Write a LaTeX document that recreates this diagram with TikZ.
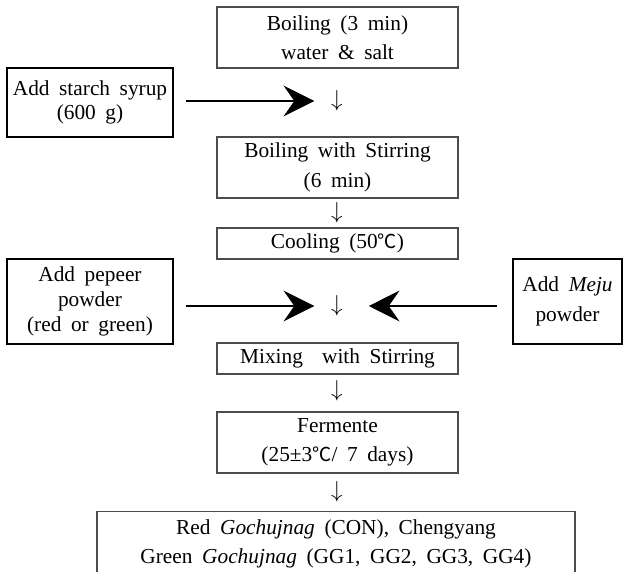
\documentclass[tikz,border=0pt]{standalone}
\usepackage{fontspec}
\setmainfont{Liberation Serif}[WordSpace=1.8]
\newfontfamily\cjk{Noto Sans CJK KR}[Scale=0.9]
\usetikzlibrary{arrows.meta}
\newcommand{\degc}{{\cjk ℃}}

\begin{document}
\begin{tikzpicture}
  [x=0.75pt,y=0.75pt,
   every node/.style={align=center,font=\fontsize{16}{22}\selectfont},
   stepbox/.style={draw=black!70,line width=0.9pt,minimum width=180.75pt,inner sep=0pt},
   sidebox/.style={draw,line width=0.9pt,inner sep=0pt,font=\fontsize{16}{18.5}\selectfont},
   down/.style={inner sep=0pt},
   feed/.style={line width=2pt,-{Stealth[length=23pt,width=23pt,inset=8pt]}}]
  \useasboundingbox (0,0) rectangle (623,-571);
  % main line
  \node[stepbox,minimum height=45.75pt] (boil) at (337.5,-37.5) {Boiling (3 min)\\water \& salt};
  \node[down] (d1) at (337,-101) {$\downarrow$};
  \node[stepbox,minimum height=45.75pt] (stir) at (337.5,-167.5) {Boiling with Stirring\\(6 min)};
  \node[down] (d2) at (337,-213) {$\downarrow$};
  \node[stepbox,minimum height=23.25pt] (cool) at (337.5,-243.5) {Cooling (50\degc)};
  \node[down] (d3) at (337,-306) {$\downarrow$};
  \node[stepbox,minimum height=23.25pt] (mix) at (337.5,-358.5) {Mixing\ \ with Stirring};
  \node[down] (d4) at (337,-391) {$\downarrow$};
  \node[stepbox,minimum height=45.75pt] (ferm) at (337.5,-442.5) {Fermente\\(25±3\degc/ 7 days)};
  \node[down] (d5) at (337,-492) {$\downarrow$};
  \node[stepbox,minimum width=358.5pt,minimum height=48pt,anchor=north] (final) at (336,-511)
    {Red \textit{Gochujnag} (CON), Chengyang\\Green \textit{Gochujnag} (GG1, GG2, GG3, GG4)};
  % side inputs
  \node[sidebox,minimum width=124.5pt,minimum height=51.75pt] (starch) at (90,-102.5) {Add starch syrup\\(600 g)};
  \node[sidebox,minimum width=124.5pt,minimum height=63.75pt] (pepper) at (90,-301.5) {Add pepeer\\powder\\(red or green)};
  \node[sidebox,minimum width=81.75pt,minimum height=63.75pt,font=\fontsize{16}{22}\selectfont] (meju) at (567.5,-301.5) {Add \textit{Meju}\\powder};
  \foreach \from/\to in {starch/d1,pepper/d3}
    \draw[feed,shorten <=9pt,shorten >=12.5pt] (\from.east |- \to) -- (\to);
  \draw[feed,shorten <=11.25pt,shorten >=19.3pt] (meju.west |- d3) -- (d3);
\end{tikzpicture}
\end{document}
